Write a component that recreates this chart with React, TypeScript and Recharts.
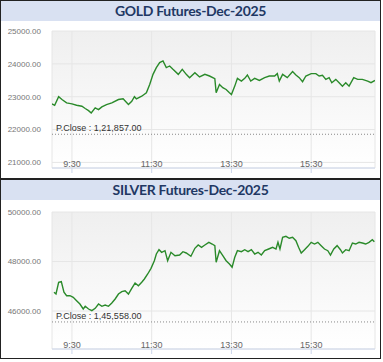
import { LineChart, Line, XAxis, YAxis, CartesianGrid, ReferenceLine } from "recharts";

// minutes since midnight
const GOLD_TIMES = [540, 544, 550, 555, 562, 570, 577, 585, 590, 595, 599, 605, 610, 615, 622, 630, 640, 647, 655, 660, 664, 667, 675, 682, 687, 692, 697, 702, 707, 712, 717, 722, 730, 736, 742, 747, 755, 762, 770, 777, 785, 787, 792, 797, 802, 807, 810, 815, 819, 825, 830, 834, 839, 845, 852, 860, 867, 875, 879, 882, 887, 894, 902, 907, 912, 917, 922, 930, 937, 942, 947, 952, 957, 961, 967, 972, 977, 982, 987, 994, 1000, 1007, 1015, 1020, 1026];
const GOLD_VALUES = [22782, 22740, 23000, 22914, 22812, 22780, 22740, 22710, 22640, 22577, 22505, 22660, 22607, 22690, 22760, 22812, 22914, 22935, 22760, 22862, 23000, 22935, 23015, 23120, 23374, 23680, 23886, 24040, 24090, 23886, 23935, 23834, 23680, 23834, 23680, 23580, 23733, 23600, 23680, 23630, 23550, 23120, 23374, 23273, 23220, 23120, 23068, 23322, 23558, 23475, 23558, 23660, 23475, 23558, 23497, 23580, 23630, 23630, 23703, 23475, 23680, 23580, 23764, 23660, 23580, 23457, 23630, 23703, 23703, 23630, 23650, 23528, 23580, 23426, 23528, 23426, 23322, 23426, 23322, 23580, 23528, 23528, 23475, 23426, 23497];

const SILVER_TIMES = [543, 546, 550, 554, 558, 562, 567, 572, 577, 582, 587, 590, 595, 600, 605, 610, 615, 620, 625, 630, 635, 640, 645, 650, 655, 660, 665, 670, 675, 679, 684, 689, 694, 697, 701, 705, 710, 714, 719, 725, 732, 737, 742, 749, 755, 760, 765, 770, 776, 781, 785, 787, 792, 797, 802, 807, 811, 815, 819, 825, 830, 835, 840, 845, 850, 855, 860, 866, 872, 877, 880, 883, 887, 892, 897, 902, 907, 911, 915, 920, 925, 930, 935, 940, 945, 950, 955, 959, 964, 969, 974, 977, 982, 987, 992, 997, 1002, 1007, 1012, 1017, 1022, 1025];
const SILVER_VALUES = [46756, 46687, 47160, 47184, 46756, 46618, 46618, 46554, 46416, 46283, 46081, 46190, 46081, 46013, 46109, 46283, 46190, 46243, 46190, 46324, 46485, 46687, 46780, 46820, 46687, 46917, 47131, 47023, 47160, 47293, 47495, 47725, 48033, 48303, 48477, 48372, 48437, 48033, 48372, 48235, 48263, 48396, 48344, 48210, 48533, 48667, 48574, 48667, 48776, 48707, 48640, 47968, 48437, 48235, 48033, 47900, 47766, 48170, 48437, 48396, 48477, 48396, 48477, 48303, 48372, 48263, 48437, 48505, 48574, 48505, 48776, 48505, 48978, 49018, 48938, 48978, 48840, 48574, 48344, 48477, 48613, 48776, 48707, 48776, 48640, 48505, 48437, 48263, 48505, 48640, 48477, 48344, 48477, 48437, 48747, 48707, 48776, 48747, 48707, 48776, 48881, 48800];

const TIME_TICKS = [570, 690, 810, 930];
const GOLD_TICKS = [21000, 22000, 23000, 24000, 25000];
const SILVER_TICKS = [46000, 48000, 50000];

const fmtTime = (m: number) => `${Math.floor(m / 60)}:${String(m % 60).padStart(2, "0")}`;

function TimeTick(props: any) {
  const { x, y, payload } = props;
  return (
    <text x={x} y={y - 8} textAnchor="middle" fontSize={9} fill="#666" fontFamily="Liberation Sans, Arial, sans-serif">
      {fmtTime(payload.value)}
    </text>
  );
}

interface PanelProps {
  id: string;
  title: string;
  times: number[];
  values: number[];
  domain: [number, number];
  ticks: number[];
  pclose: number;
  pcloseLabel: string;
  top: number;
  panelHeight: number;
  chartHeight: number;
  marginTop: number;
}

function Panel(p: PanelProps) {
  const data = p.times.map((t, i) => ({ t, v: p.values[i] }));
  return (
    <div
      style={{
        position: "absolute",
        left: 0,
        top: p.top,
        width: 381,
        height: p.panelHeight,
        boxSizing: "border-box",
        border: "1px solid #222",
        background: "#fff",
      }}
    >
      <div
        style={{
          height: 20,
          background: "#d9e1f2",
          color: "#1f3864",
          fontFamily: "Lato, 'Open Sans', sans-serif",
          fontWeight: 700,
          fontSize: 14,
          letterSpacing: -0.3,
          lineHeight: "20px",
          textAlign: "center",
        }}
      >
        {p.title}
      </div>
      <LineChart
        width={379}
        height={p.chartHeight}
        data={data}
        margin={{ top: p.marginTop, right: 5, bottom: 0, left: 0 }}
      >
        <defs>
          <linearGradient id={`${p.id}Bg`} x1="0" y1="0" x2="0" y2="1">
            <stop offset="0%" stopColor="#efefef" />
            <stop offset="100%" stopColor="#ffffff" />
          </linearGradient>
        </defs>
        <CartesianGrid stroke="#e6e6e6" fill={`url(#${p.id}Bg)`} />
        <XAxis
          dataKey="t"
          type="number"
          domain={[540, 1026]}
          ticks={TIME_TICKS}
          allowDataOverflow
          height={10}
          stroke="#ccd6eb"
          tickSize={5}
          tickMargin={2}
          tickLine={{ stroke: "#ccd6eb" }}
          tick={<TimeTick />}
        />
        <YAxis
          type="number"
          domain={p.domain}
          ticks={p.ticks}
          allowDataOverflow
          width={51}
          axisLine={false}
          tickLine={false}
          tickMargin={5}
          tickFormatter={(v: number) => v.toFixed(2)}
          tick={{ fontSize: 8, fill: "#777", fontFamily: "Liberation Sans, Arial, sans-serif" }}
        />
        <ReferenceLine
          y={p.pclose}
          stroke="#888"
          strokeDasharray="1 2"
          label={(lp: any) => (
            <text
              x={lp.viewBox.x + 4}
              y={lp.viewBox.y - 3}
              fontSize={9}
              fill="#333"
              fontFamily="Liberation Sans, Arial, sans-serif"
            >
              {p.pcloseLabel}
            </text>
          )}
        />
        <Line
          type="linear"
          dataKey="v"
          stroke="#2a8a2a"
          strokeWidth={1.4}
          dot={false}
          isAnimationActive={false}
        />
      </LineChart>
    </div>
  );
}

export default function App() {
  return (
    <div style={{ position: "relative", width: 383, height: 362, background: "#fff" }}>
      <style>{`body{margin:0}`}</style>
      <Panel
        id="gold"
        title="GOLD Futures-Dec-2025"
        times={GOLD_TIMES}
        values={GOLD_VALUES}
        domain={[20830, 25000]}
        ticks={GOLD_TICKS}
        pclose={21857}
        pcloseLabel="P.Close : 1,21,857.00"
        top={0}
        panelHeight={179}
        chartHeight={157}
        marginTop={10}
      />
      <Panel
        id="silver"
        title="SILVER Futures-Dec-2025"
        times={SILVER_TIMES}
        values={SILVER_VALUES}
        domain={[44465, 50000]}
        ticks={SILVER_TICKS}
        pclose={45558}
        pcloseLabel="P.Close : 1,45,558.00"
        top={179}
        panelHeight={180}
        chartHeight={159}
        marginTop={12}
      />
    </div>
  );
}
